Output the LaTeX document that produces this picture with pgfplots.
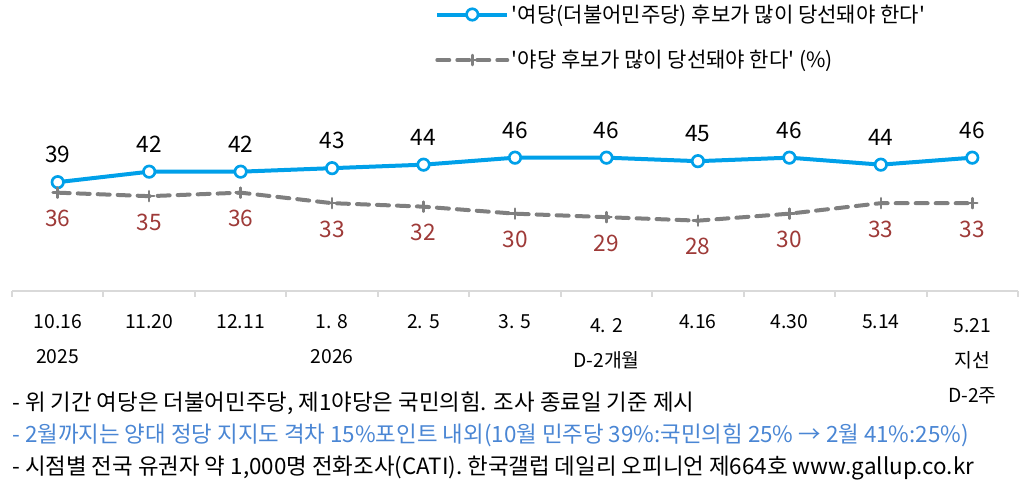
\documentclass[border=0pt]{standalone}
\usepackage{pgfplots}
\pgfplotsset{compat=1.18}
\usepackage{fontspec}
\setmainfont{Noto Sans CJK KR}
\definecolor{cblue}{RGB}{0,160,233}
\definecolor{cgray}{RGB}{127,127,127}
\definecolor{cred}{RGB}{158,58,56}
\definecolor{cnote}{RGB}{74,134,212}
\definecolor{caxis}{RGB}{217,217,217}
\begin{document}
\begin{tikzpicture}
\useasboundingbox (-9pt,-143.5pt) rectangle (764.25pt,218pt);
\begin{axis}[
  at={(0pt,0pt)}, anchor=south west,
  scale only axis, width=754.5pt, height=110.25pt,
  xmin=-0.5, xmax=10.5, ymin=8, ymax=50,
  axis y line=none, axis x line*=bottom,
  x axis line style={draw=caxis, line width=1.5pt},
  xtick={0,...,10},
  minor xtick={-0.5,0.5,...,10.5},
  major tick length=0pt, minor tick length=4.5pt,
  tick align=outside,
  minor tick style={draw=caxis, line width=1.5pt},
  major tick style={draw=none},
  xticklabels={
    {\rule{0pt}{12pt}10.16\\2025},
    {\rule{0pt}{12pt}11.20},
    {\rule{0pt}{12pt}12.11},
    {\rule{0pt}{12pt}1. 8\\2026},
    {\rule{0pt}{12pt}2. 5},
    {\rule{0pt}{12pt}3. 5},
    {\rule{0pt}{15pt}4. 2\\D-2개월},
    {\rule{0pt}{12pt}4.16},
    {\rule{0pt}{12pt}4.30},
    {\rule{0pt}{12pt}5.14},
    {\rule{0pt}{15pt}5.21\\지선\\D-2주}},
  xticklabel style={align=center, anchor=north, inner sep=0pt,
    font=\fontsize{14.5}{26}\selectfont, yshift=-16.3pt},
  clip=false,
  /pgf/number format/assume math mode=true,
  legend cell align=left,
  legend style={at={(0.4205,1.965)}, anchor=north west, draw=none, fill=none,
    inner sep=0pt, row sep=15.5pt, font=\fontsize{15.8}{18}\selectfont},
  legend image code/.code={\draw[mark repeat=2, mark phase=2, #1]
    plot coordinates {(0pt,0pt) (26.25pt,0pt) (52.5pt,0pt)};},
]
\addplot[cblue, line width=3pt, mark=*, mark size=4.3pt,
  mark options={fill=white, draw=cblue, line width=2pt},
  nodes near coords,
  every node near coord/.style={anchor=south, inner sep=0pt, yshift=13.5pt,
    font=\fontsize{17}{20}\selectfont, text=black}]
  coordinates {(0,39) (1,42) (2,42) (3,43) (4,44) (5,46) (6,46) (7,45) (8,46) (9,44) (10,46)};
\addlegendentry{\textquotesingle 여당(더불어민주당) 후보가 많이 당선돼야 한다\textquotesingle}
\addplot[cgray, line width=3pt, line cap=round, dash pattern=on 9pt off 6pt,
  mark=+, mark size=3.75pt, mark options={solid, line width=1.9pt, draw=cgray},
  nodes near coords,
  every node near coord/.style={anchor=north, inner sep=0pt, yshift=-12.3pt,
    font=\fontsize{17}{20}\selectfont, text=cred}]
  coordinates {(0,36) (1,35) (2,36) (3,33) (4,32) (5,30) (6,29) (7,28) (8,30) (9,33) (10,33)};
\addlegendentry{\textquotesingle 야당 후보가 많이 당선돼야 한다\textquotesingle{} (\%)}
\end{axis}
\node[anchor=base west, inner sep=0pt, font=\fontsize{16.8}{18}\selectfont] at (0pt,-89.5pt)
  {- 위 기간 여당은 더불어민주당, 제1야당은 국민의힘. 조사 종료일 기준 제시};
\node[anchor=base west, inner sep=0pt, font=\fontsize{16.8}{18}\selectfont, text=cnote] at (0pt,-114pt)
  {- 2월까지는 양대 정당 지지도 격차 15\%포인트 내외(10월 민주당 39\%:국민의힘 25\% → 2월 41\%:25\%)};
\node[anchor=base west, inner sep=0pt, font=\fontsize{16.8}{18}\selectfont] at (0pt,-138pt)
  {- 시점별 전국 유권자 약 1,000명 전화조사(CATI). 한국갤럽 데일리 오피니언 제664호 www.gallup.co.kr};
\end{tikzpicture}
\end{document}
